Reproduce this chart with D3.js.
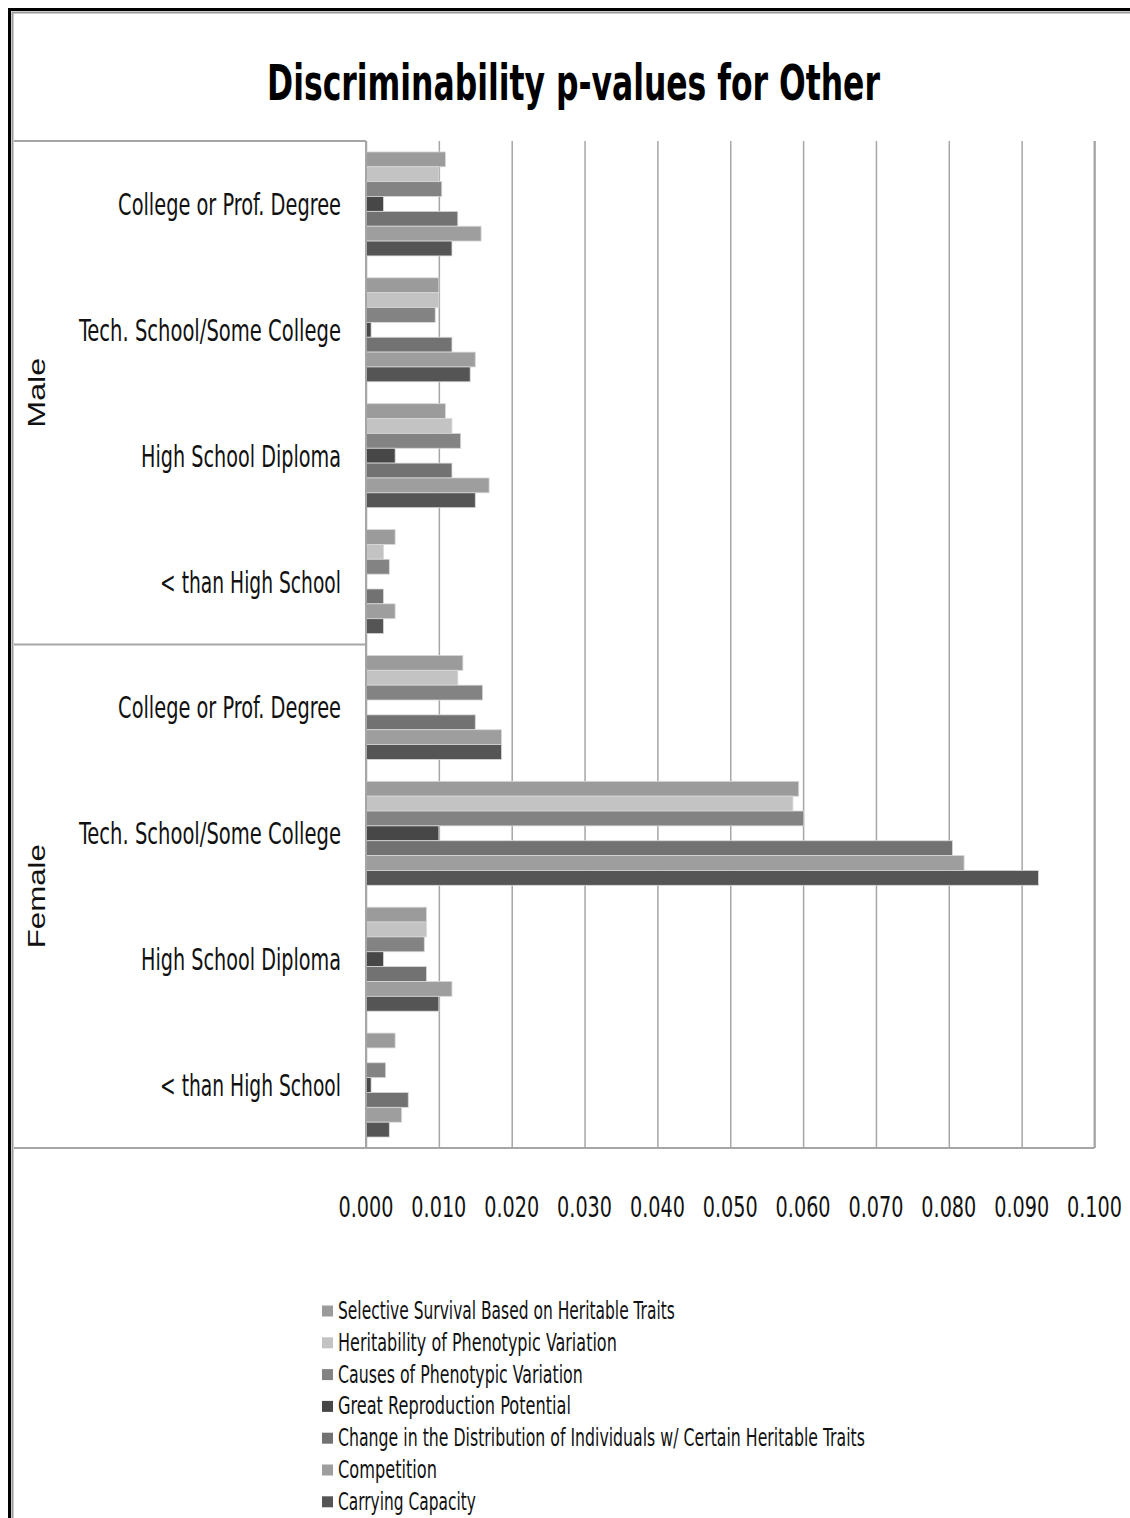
<!DOCTYPE html>
<html>
<head>
<meta charset="utf-8">
<script src="https://cdn.jsdelivr.net/npm/d3@7"></script>
<style>
  html, body { margin: 0; padding: 0; background: #fff; }
  svg { display: block; }
</style>
</head>
<body>
<svg id="chart" width="1130" height="1518"></svg>
<script>
// Groups and education levels (top to bottom)
const genders = ["Male", "Female"];
const levels = ["College or Prof. Degree", "Tech. School/Some College", "High School Diploma", "< than High School"];

// Series, in the order they are stacked inside each category
const seriesNames = [
  "Selective Survival Based on Heritable Traits",
  "Heritability of Phenotypic Variation",
  "Causes of Phenotypic Variation",
  "Great Reproduction Potential",
  "Change in the Distribution of Individuals w/ Certain Heritable Traits",
  "Competition",
  "Carrying Capacity"
];

// p-values per series, one entry per category:
// Male (College, Tech, HS Diploma, < HS), Female (College, Tech, HS Diploma, < HS)
const selectiveSurvival = [0.0109, 0.0100, 0.0109, 0.0040, 0.0133, 0.0594, 0.0083, 0.0040];
const heritability      = [0.0100, 0.0100, 0.0118, 0.0024, 0.0126, 0.0586, 0.0083, 0.0000];
const causesVariation   = [0.0104, 0.0095, 0.0130, 0.0032, 0.0160, 0.0601, 0.0080, 0.0027];
const reproduction      = [0.0024, 0.0007, 0.0040, 0.0000, 0.0000, 0.0100, 0.0024, 0.0007];
const distributionShift = [0.0126, 0.0118, 0.0118, 0.0024, 0.0150, 0.0805, 0.0083, 0.0058];
const competition       = [0.0158, 0.0150, 0.0169, 0.0040, 0.0186, 0.0821, 0.0118, 0.0049];
const carryingCapacity  = [0.0118, 0.0143, 0.0150, 0.0024, 0.0186, 0.0923, 0.0100, 0.0032];

const xTicks = [0, 0.01, 0.02, 0.03, 0.04, 0.05, 0.06, 0.07, 0.08, 0.09, 0.1];
const seriesColors = ["#9b9b9b", "#c3c3c3", "#838383", "#474747", "#727272", "#9e9e9e", "#555555"];

const seriesValues = [selectiveSurvival, heritability, causesVariation, reproduction,
                      distributionShift, competition, carryingCapacity];

// Category keys combine gender and level so that each is unique
const categories = [];
genders.forEach(g => levels.forEach(l => categories.push({ key: g + "|" + l, gender: g, level: l })));

const svg = d3.select("#chart");
const narrow = "'Liberation Sans Narrow', 'DejaVu Sans Condensed', sans-serif";

const plot = { left: 366, right: 1094.5, top: 141, bottom: 1148 };
const boxLeft = 14;

const x = d3.scaleLinear().domain([0, 0.1]).range([plot.left, plot.right]);
const y = d3.scaleBand()
  .domain(categories.map(c => c.key))
  .range([plot.top, plot.bottom])
  .paddingInner(0.174)
  .paddingOuter(0.087);
const ySeries = d3.scaleBand().domain(d3.range(seriesNames.length)).range([0, y.bandwidth()]);

// Squeeze a text horizontally so it spans the given width
function fitWidth(sel, width, anchorX, baseY, anchor) {
  sel.each(function () {
    const node = d3.select(this);
    const w = this.getComputedTextLength();
    const k = Math.min(1.4, width / w);
    node.attr("x", 0).attr("y", 0)
      .attr("text-anchor", anchor)
      .attr("transform", `translate(${anchorX},${baseY}) scale(${k},1)`);
  });
}

// Outer frame: black rule with a thin grey inner rule
svg.append("rect")
  .attr("x", 9.5).attr("y", 9.5).attr("width", 1200).attr("height", 1600)
  .attr("fill", "none").attr("stroke", "#000").attr("stroke-width", 3);
svg.append("rect")
  .attr("x", 12.5).attr("y", 12.5).attr("width", 1200).attr("height", 1600)
  .attr("fill", "none").attr("stroke", "#9a9a9a").attr("stroke-width", 2);

// Title
svg.append("text")
  .attr("font-family", narrow)
  .attr("font-weight", "bold")
  .attr("font-size", 50)
  .attr("fill", "#000")
  .text("Discriminability p-values for Other")
  .call(fitWidth, 613, 573.5, 100, "middle");

// Vertical gridlines from the x axis ticks
const xAxis = d3.axisBottom(x).tickValues(xTicks).tickSize(-(plot.bottom - plot.top)).tickFormat("");
const gx = svg.append("g").attr("transform", `translate(0,${plot.bottom})`).call(xAxis);
gx.select(".domain").remove();
gx.selectAll(".tick line").attr("stroke", "#a6a6a6").attr("stroke-width", 1.5);

// Tick labels
svg.append("g").selectAll("text")
  .data(xTicks)
  .join("text")
  .attr("font-family", narrow)
  .attr("font-size", 28)
  .attr("fill", "#111")
  .text(d => d3.format(".3f")(d))
  .each(function (d) { d3.select(this).call(fitWidth, 55, x(d), 1217, "middle"); });

// Bars
const barData = [];
categories.forEach((c, ci) => {
  seriesNames.forEach((s, si) => {
    barData.push({ key: c.key, si, value: seriesValues[si][ci] });
  });
});
svg.append("g").selectAll("rect")
  .data(barData.filter(d => d.value > 0))
  .join("rect")
  .attr("x", x(0))
  .attr("y", d => y(d.key) + ySeries(d.si))
  .attr("width", d => x(d.value) - x(0))
  .attr("height", ySeries.bandwidth())
  .attr("fill", d => seriesColors[d.si])
  .attr("stroke", "#d8d8d8")
  .attr("stroke-width", 0.8);

// Category box: lines around the label area and the value axis line
const lineColor = "#a6a6a6";
const box = svg.append("g").attr("stroke", lineColor).attr("stroke-width", 2);
box.append("line").attr("x1", boxLeft).attr("x2", plot.left).attr("y1", plot.top).attr("y2", plot.top);
box.append("line").attr("x1", boxLeft).attr("x2", plot.right).attr("y1", plot.bottom).attr("y2", plot.bottom);
const midY = y(categories[levels.length].key) - y.step() * y.paddingInner() / 2;
box.append("line").attr("x1", boxLeft).attr("x2", plot.left).attr("y1", midY).attr("y2", midY);
box.append("line").attr("x1", plot.left).attr("x2", plot.left).attr("y1", plot.top).attr("y2", plot.bottom);
box.append("line").attr("x1", plot.right).attr("x2", plot.right).attr("y1", plot.top).attr("y2", plot.bottom);

// Category labels
const levelWidths = {
  "College or Prof. Degree": 223,
  "Tech. School/Some College": 262,
  "High School Diploma": 200,
  "< than High School": 181
};
svg.append("g").selectAll("text")
  .data(categories)
  .join("text")
  .attr("font-family", narrow)
  .attr("font-size", 31)
  .attr("fill", "#111")
  .text(d => d.level)
  .each(function (d) {
    d3.select(this).call(fitWidth, levelWidths[d.level], 341, y(d.key) + y.bandwidth() / 2 + 11, "end");
  });

// Gender group labels, rotated
genders.forEach((g, gi) => {
  const first = y(categories[gi * levels.length].key);
  const last = y(categories[gi * levels.length + levels.length - 1].key) + y.bandwidth();
  const cy = (first + last) / 2;
  svg.append("text")
    .attr("transform", `translate(45,${cy}) rotate(-90)`)
    .attr("text-anchor", "middle")
    .attr("font-family", "'Liberation Sans', Arial, sans-serif")
    .attr("font-size", 24)
    .attr("textLength", g === "Male" ? 70 : 104)
    .attr("lengthAdjust", "spacingAndGlyphs")
    .attr("fill", "#111")
    .text(g);
});

// Legend
const legendLengths = [337, 279, 245, 233, 527, 99, 138];
const legend = svg.append("g").selectAll("g")
  .data(seriesNames)
  .join("g")
  .attr("transform", (d, i) => `translate(322,${1311 + i * 31.8})`);
legend.append("rect")
  .attr("x", 0).attr("y", -5.5).attr("width", 11).attr("height", 11)
  .attr("fill", (d, i) => seriesColors[i]);
legend.append("text")
  .attr("font-family", narrow)
  .attr("font-size", 24)
  .attr("fill", "#111")
  .text(d => d)
  .each(function (d, i) { d3.select(this).call(fitWidth, legendLengths[i], 16, 8, "start"); });
</script>
</body>
</html>
